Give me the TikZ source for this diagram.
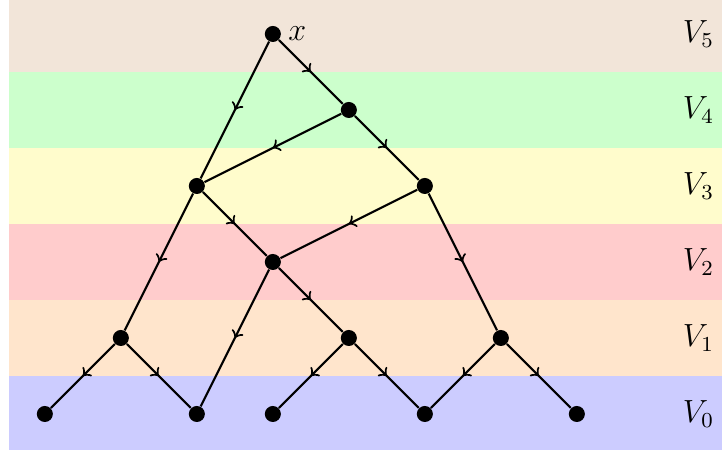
\documentclass[tikz,border=0pt]{standalone}
\usetikzlibrary{decorations.markings}
\begin{document}
\begin{tikzpicture}[x=1cm,y=1cm,
  vtx/.style={circle,fill=black,inner sep=0pt,minimum size=6pt},
  edge/.style={thick,postaction={decorate},
    decoration={markings,mark=at position 0.5 with {\arrow{>}}}},
  lbl/.style={font=\fontsize{11.5pt}{14pt}\selectfont}]
\useasboundingbox (0,0) rectangle (9.5,5.947);
\clip (0,0) rectangle (9.5,5.947);
% bands
\fill[blue!20]   (0.12,0.025) rectangle (9.5,1.0);
\fill[orange!20] (0.12,1.0) rectangle (9.5,2.0);
\fill[red!20]    (0.12,2.0) rectangle (9.5,3.0);
\fill[yellow!20] (0.12,3.0) rectangle (9.5,4.0);
\fill[green!20]  (0.12,4.0) rectangle (9.5,5.0);
\fill[brown!20]  (0.12,5.0) rectangle (9.5,6.0);
\begin{scope}[shift={(0.59,0.5)}]
% vertices
\node[vtx] (x5) at (3,5) {};
\node[lbl,anchor=west] (xl) at (3.08,5) {$x$};
\node[vtx] (v4) at (4,4) {};
\node[vtx] (a3) at (2,3) {};
\node[vtx] (b3) at (5,3) {};
\node[vtx] (a2) at (3,2) {};
\node[vtx] (a1) at (1,1) {};
\node[vtx] (b1) at (4,1) {};
\node[vtx] (c1) at (6,1) {};
\node[vtx] (a0) at (0,0) {};
\node[vtx] (b0) at (2,0) {};
\node[vtx] (c0) at (3,0) {};
\node[vtx] (d0) at (5,0) {};
\node[vtx] (e0) at (7,0) {};
% level labels
\node[lbl] (L5) at (8.6,5) {$V_5$};
\node[lbl] (L4) at (8.6,4) {$V_4$};
\node[lbl] (L3) at (8.6,3) {$V_3$};
\node[lbl] (L2) at (8.6,2) {$V_2$};
\node[lbl] (L1) at (8.6,1) {$V_1$};
\node[lbl] (L0) at (8.6,0) {$V_0$};
% edges
\draw[edge] (x5) -- (a3);
\draw[edge] (x5) -- (v4);
\draw[edge] (v4) -- (a3);
\draw[edge] (v4) -- (b3);
\draw[edge] (a3) -- (a1);
\draw[edge] (a3) -- (a2);
\draw[edge] (b3) -- (a2);
\draw[edge] (b3) -- (c1);
\draw[edge] (a2) -- (b0);
\draw[edge] (a2) -- (b1);
\draw[edge] (a1) -- (a0);
\draw[edge] (a1) -- (b0);
\draw[edge] (b1) -- (c0);
\draw[edge] (b1) -- (d0);
\draw[edge] (c1) -- (d0);
\draw[edge] (c1) -- (e0);
\end{scope}
\end{tikzpicture}
\end{document}
